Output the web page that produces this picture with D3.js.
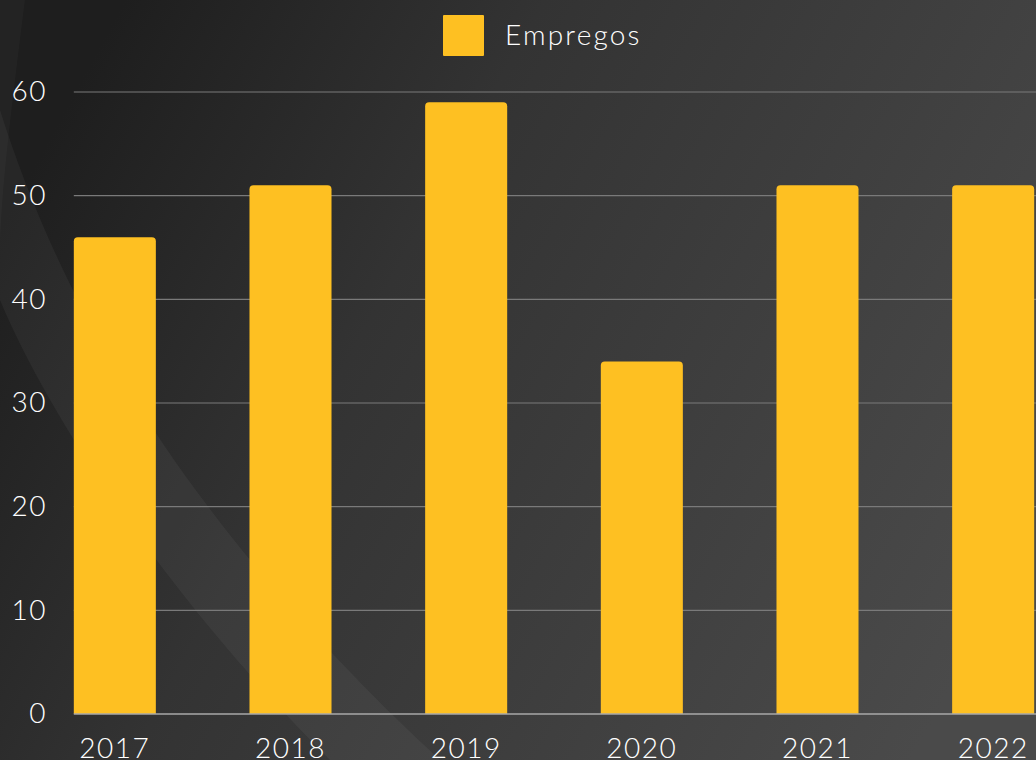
<!DOCTYPE html>
<html lang="pt">
<meta charset='utf-8'>
<style>
  body{ margin:0; background:#333 }
  text{ font-family: Lato, 'Open Sans', sans-serif; fill:#fff; font-weight:300 }
  .tick text{ font-size:28px; letter-spacing:1.5px }
  .grid line{ stroke:#7a7a7a; stroke-width:1.2 }
</style>
<body>
<script src='https://cdn.jsdelivr.net/npm/d3@7'></script>
<script>
  var years = ['2017', '2018', '2019', '2020', '2021', '2022']
  var empregos = [46, 51, 59, 34, 51, 51]
  var yTicks = [0, 10, 20, 30, 40, 50, 60]
  var seriesName = 'Empregos'

  var W = 1036, H = 760
  var svg = d3.select('body').append('svg').attr('width', W).attr('height', H)

  var defs = svg.append('defs')
  var bg = defs.append('linearGradient').attr('id', 'bg')
    .attr('x1', 0).attr('y1', 0.3).attr('x2', 1).attr('y2', 0.7)
  bg.append('stop').attr('offset', 0).attr('stop-color', '#1e1e1e')
  bg.append('stop').attr('offset', 0.35).attr('stop-color', '#333')
  bg.append('stop').attr('offset', 1).attr('stop-color', '#4a4a4a')

  svg.append('rect').attr('width', W).attr('height', H).attr('fill', 'url(#bg)')

  // faint swoosh on the left
  svg.append('path')
    .attr('d', 'M0,110 C60,300 180,520 440,760 L330,760 C170,600 50,420 0,300 Z')
    .attr('fill', '#fff').attr('fill-opacity', 0.045)
  svg.append('path')
    .attr('d', 'M25,0 C10,120 0,200 0,260 L0,0 Z')
    .attr('fill', '#fff').attr('fill-opacity', 0.025)

  var x = d3.scaleBand().domain(years).range([27, 1081])
    .paddingInner(0.533).paddingOuter(0.2665)
  var y = d3.scaleLinear().domain([0, 60]).range([714, 92])

  // grid
  svg.append('g').attr('class', 'grid')
    .selectAll('line').data(yTicks.filter(d => d > 0)).join('line')
    .attr('x1', x(years[0])).attr('x2', W)
    .attr('y1', d => y(d)).attr('y2', d => y(d))

  // bars with rounded tops
  var r = 4
  svg.append('g').selectAll('path').data(years).join('path')
    .attr('fill', '#fec022')
    .attr('d', function(d, i){
      var x0 = x(d), x1 = x(d) + x.bandwidth(), y0 = y(0), y1 = y(empregos[i])
      return 'M' + x0 + ',' + y0 + 'V' + (y1 + r) + 'Q' + x0 + ',' + y1 + ' ' + (x0 + r) + ',' + y1 +
        'H' + (x1 - r) + 'Q' + x1 + ',' + y1 + ' ' + x1 + ',' + (y1 + r) + 'V' + y0 + 'Z'
    })

  // baseline
  svg.append('line').attr('x1', x(years[0])).attr('x2', W)
    .attr('y1', y(0)).attr('y2', y(0)).attr('stroke', '#a8a8a8').attr('stroke-width', 1.5)

  // y axis
  var yAxis = svg.append('g').attr('transform', 'translate(47,0)')
    .call(d3.axisLeft(y).tickValues(yTicks).tickSize(0).tickPadding(0))
  yAxis.select('.domain').remove()

  // x axis
  var xAxis = svg.append('g').attr('transform', 'translate(0,' + y(0) + ')')
    .call(d3.axisBottom(x).tickSize(0).tickPadding(24))
  xAxis.select('.domain').remove()
  xAxis.selectAll('.tick text').attr('font-size', 29)

  svg.selectAll('.tick text').attr('fill', '#fff').style('font-family', 'Lato, sans-serif')

  // legend
  var lg = svg.append('g')
  lg.append('rect').attr('x', 443).attr('y', 15).attr('width', 41).attr('height', 41)
    .attr('fill', '#fec022').attr('rx', 1)
  lg.append('text').attr('x', 505).attr('y', 45).style('font-size', '28px')
    .style('letter-spacing', '2.2px').text(seriesName)
</script>
</body>
</html>
